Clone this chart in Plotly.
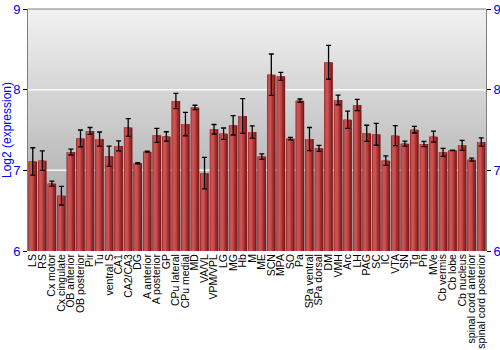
import plotly.graph_objects as go

regions = ["LS", "RS", "Cx motor", "Cx cingulate", "OB anterior", "OB posterior", "Pir", "Tu",
           "ventral S", "CA1", "CA2/CA3", "DG", "A anterior", "A posterior", "GP", "CPu lateral",
           "CPu medial", "MD", "VA/VL", "VPM/VPL", "LG", "MG", "Hb", "M", "ME", "SCN", "MPA", "SO",
           "Pa", "SPa ventral", "SPa dorsal", "DM", "VMH", "Arc", "LH", "PAG", "SC", "IC", "VTA",
           "SN", "Tg", "Pn", "MVe", "Cb vermis", "Cb lobe", "Cb nucleus", "spinal cord anterior",
           "spinal cord posterior"]
expression = [7.11, 7.12, 6.835, 6.685, 7.227, 7.395, 7.488, 7.388,
              7.174, 7.302, 7.53, 7.087, 7.231, 7.434, 7.42, 7.86,
              7.574, 7.78, 6.965, 7.508, 7.455, 7.558, 7.674, 7.475, 7.17, 8.186, 8.165, 7.393,
              7.864, 7.388, 7.273, 8.339, 7.872, 7.628, 7.81, 7.459, 7.446, 7.12, 7.43,
              7.33, 7.504, 7.326, 7.417, 7.223, 7.248, 7.31, 7.132,
              7.351]
errors = [0.17, 0.12, 0.03, 0.115, 0.037, 0.105, 0.043, 0.087,
          0.125, 0.062, 0.11, 0.008, 0.006, 0.087, 0.058, 0.095,
          0.145, 0.027, 0.195, 0.06, 0.07, 0.12, 0.215, 0.076, 0.033, 0.256, 0.05, 0.016,
          0.02, 0.143, 0.037, 0.21, 0.06, 0.107, 0.07, 0.1, 0.135, 0.058, 0.124,
          0.031, 0.041, 0.033, 0.068, 0.05, 0.003, 0.062, 0.019,
          0.052]
y_ticks = [6, 7, 8, 9]
y_range = [6, 9]

fig = go.Figure()
base = y_range[0]
heights = [v - base for v in expression]
# layered bars to imitate horizontal shading
layers = [(0.9, -0.45, "#7c1b1b"), (0.72, -0.43, "#9e2c2c"), (0.5, -0.39, "#bc4242"), (0.3, -0.33, "#c95252")]
for w, off, col in layers:
    fig.add_trace(go.Bar(x=regions, y=heights, base=base, width=w, offset=off,
                         marker=dict(color=col, line=dict(width=0)), hoverinfo="skip",
                         showlegend=False))
fig.add_trace(go.Scatter(x=regions, y=expression, mode="markers",
                         marker=dict(size=1, color="rgba(0,0,0,0)"),
                         error_y=dict(type="data", array=errors, color="black", thickness=1.3, width=2.5),
                         showlegend=False))
fig.add_trace(go.Scatter(x=regions, y=expression, mode="markers", yaxis="y2",
                         marker=dict(size=1, color="rgba(0,0,0,0)"), hoverinfo="skip",
                         showlegend=False))

# background gradient
shapes = []
n = 80
top = (242, 242, 242)
bot = (158, 158, 158)
for i in range(n):
    t = (i + 0.5) / n
    c = tuple(int(round(top[k] + (bot[k] - top[k]) * t)) for k in range(3))
    y0 = max(0, 1 - (i + 1) / n - 0.004)
    shapes.append(dict(type="rect", xref="paper", yref="paper", x0=0, x1=1,
                       y0=y0, y1=1 - i / n, fillcolor="rgb(%d,%d,%d)" % c,
                       line=dict(width=0), layer="below"))
for g in y_ticks[1:-1]:
    shapes.append(dict(type="line", xref="paper", yref="y", x0=0, x1=1, y0=g, y1=g,
                       line=dict(color="rgba(255,255,255,0.9)", width=1.5), layer="below"))

fig.update_layout(
    width=500, height=350,
    margin=dict(l=28, r=14, t=9, b=99),
    paper_bgcolor="white", plot_bgcolor="rgba(0,0,0,0)",
    barmode="overlay",
    shapes=shapes,
    font=dict(family="Liberation Sans, Arial, sans-serif"),
    xaxis=dict(type="category", range=[-0.5, len(regions) - 0.5], tickangle=-90,
               tickmode="array", tickvals=regions, ticktext=regions,
               tickfont=dict(size=10.5, color="black"), showgrid=False, ticks="",
               showline=False, automargin=False),
    yaxis=dict(range=y_range, tickvals=y_ticks, tickfont=dict(size=13, color="blue"),
               showgrid=False, zeroline=False, showline=True, linecolor="#808080",
               ticks="outside", ticklen=4, tickcolor="black",
               title=dict(text="Log2 (expression)", font=dict(size=12, color="blue"), standoff=4),
               automargin=False),
    yaxis2=dict(range=y_range, tickvals=y_ticks, tickfont=dict(size=13, color="blue"),
                overlaying="y", side="right", showgrid=False, zeroline=False, showline=True,
                linecolor="#808080", ticks="outside", ticklen=4, tickcolor="black",
                automargin=False),
)
# top border
fig.add_shape(type="line", xref="paper", yref="paper", x0=0, x1=1, y0=1, y1=1,
              line=dict(color="#808080", width=1))
fig.write_html("out.html")
